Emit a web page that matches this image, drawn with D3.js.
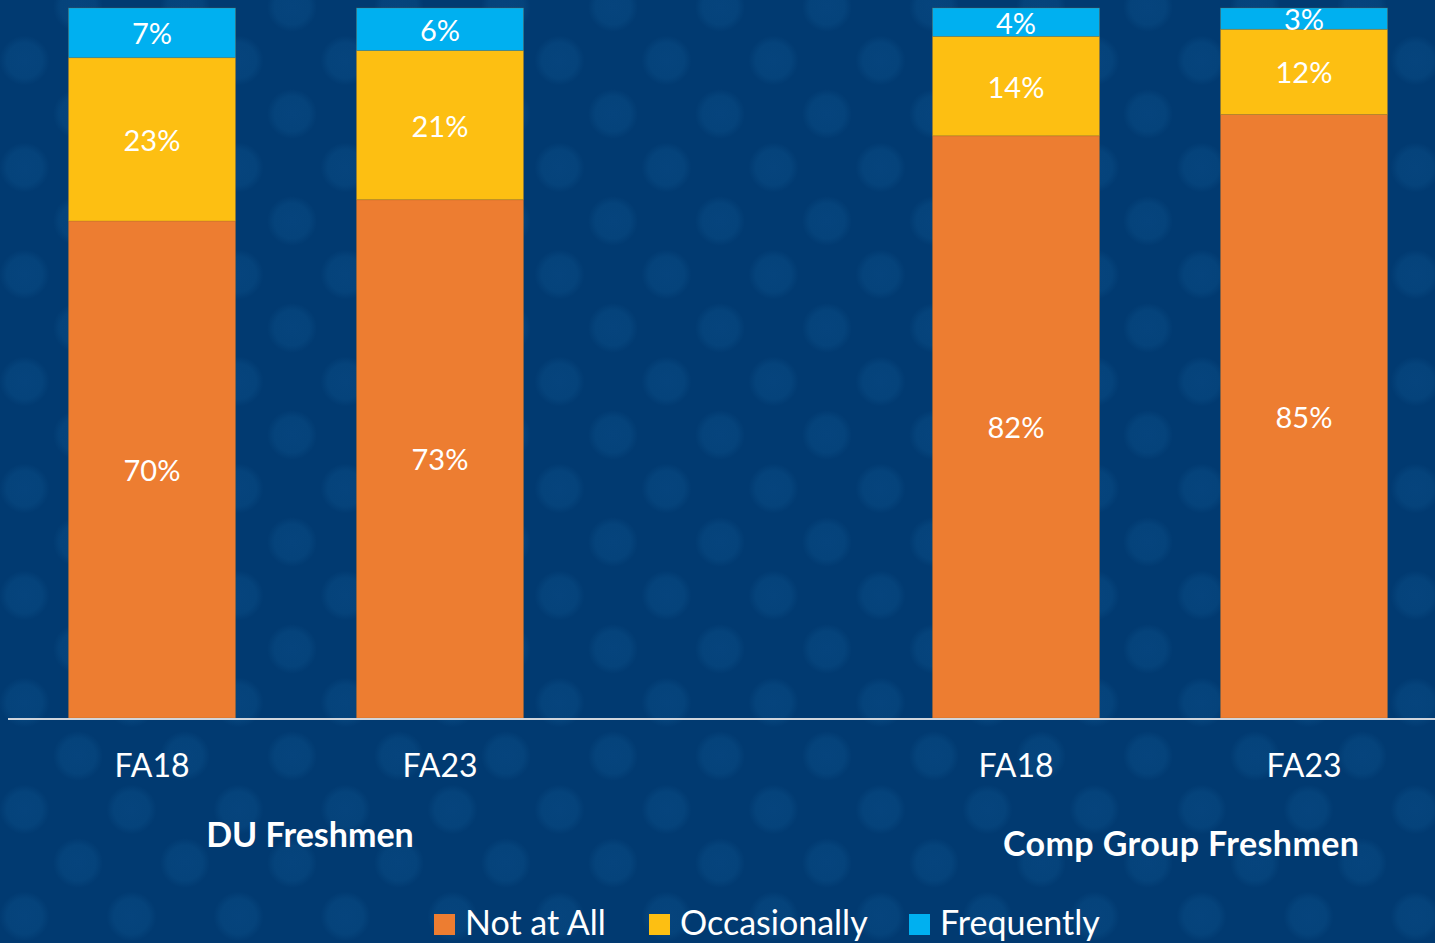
<!DOCTYPE html>
<html>
<head>
<meta charset="utf-8">
<script src="https://cdn.jsdelivr.net/npm/d3@7"></script>
<style>
  html, body { margin: 0; padding: 0; background: #013a71; overflow: hidden; }
  svg { display: block; font-family: Lato, "Open Sans", sans-serif; }
</style>
</head>
<body>
<div id="chart"></div>
<script>
// categories (an empty slot separates the two groups)
const slots = ["du-FA18", "du-FA23", "gap", "cg-FA18", "cg-FA23"];
const tickLabels = ["FA18", "FA23", "", "FA18", "FA23"];
const groups = ["DU Freshmen", "Comp Group Freshmen"];

// series values, percent
const series = ["Not at All", "Occasionally", "Frequently"];
const notAtAll     = [70, 73, null, 82, 85];
const occasionally = [23, 21, null, 14, 12];
const frequently   = [7, 6, null, 4, 3];

const colors = ["#ed7d31", "#fdbf12", "#00b0f0"];

// SVG DIMENSIONS
const width = 1435, height = 943;
const svg = d3.select("#chart").append("svg")
  .attr("width", width)
  .attr("height", height);

// background dots
const defs = svg.append("defs");
const grad = defs.append("radialGradient").attr("id", "dotGrad");
grad.append("stop").attr("offset", "0%").attr("stop-color", "#06447d");
grad.append("stop").attr("offset", "70%").attr("stop-color", "#05437b");
grad.append("stop").attr("offset", "100%").attr("stop-color", "#013a71");
const pat = defs.append("pattern")
  .attr("id", "dots")
  .attr("patternUnits", "userSpaceOnUse")
  .attr("x", 78).attr("y", 7)
  .attr("width", 107).attr("height", 107);
pat.append("rect").attr("width", 107).attr("height", 107).attr("fill", "#013a71");
[[0, 0], [107, 0], [0, 107], [107, 107], [53.5, 53.5]].forEach(([cx, cy]) => {
  pat.append("circle").attr("cx", cx).attr("cy", cy).attr("r", 25).attr("fill", "url(#dotGrad)");
});
svg.append("rect").attr("width", width).attr("height", height).attr("fill", "url(#dots)");

// SCALES
const x = d3.scaleBand()
  .domain(slots)
  .range([8, 1448])
  .paddingInner(0.42)
  .paddingOuter(0.21);
const y = d3.scaleLinear().domain([0, 100]).range([718, 8]);

// stacked data
const rows = slots.map((s, i) => ({
  slot: s,
  "Not at All": notAtAll[i],
  "Occasionally": occasionally[i],
  "Frequently": frequently[i]
})).filter(d => d["Not at All"] !== null);
const stacked = d3.stack().keys(series)(rows);

// DRAW bars
const layer = svg.append("g").selectAll("g")
  .data(stacked)
  .enter()
  .append("g")
    .attr("fill", (d, i) => colors[i]);
layer.selectAll("rect")
  .data(d => d)
  .enter()
  .append("rect")
    .attr("x", d => x(d.data.slot))
    .attr("width", x.bandwidth())
    .attr("y", d => y(d[1]))
    .attr("height", d => y(d[0]) - y(d[1]))
    .attr("stroke", "rgba(160,110,40,0.35)")
    .attr("stroke-width", 0.8);

// value labels
layer.selectAll("text")
  .data(d => d)
  .enter()
  .append("text")
    .attr("x", d => x(d.data.slot) + x.bandwidth() / 2)
    .attr("y", d => (y(d[0]) + y(d[1])) / 2)
    .attr("text-anchor", "middle")
    .attr("dominant-baseline", "central")
    .attr("fill", "white")
    .attr("font-size", 29)
    .text(d => Math.round(d[1] - d[0]) + "%");

// baseline
svg.append("line")
  .attr("x1", 8).attr("x2", width)
  .attr("y1", y(0) + 1).attr("y2", y(0) + 1)
  .attr("stroke", "#d0d5dc")
  .attr("stroke-width", 2);

// x axis labels
const xAxis = d3.axisBottom(x).tickSize(0).tickFormat((d, i) => tickLabels[i]);
const gx = svg.append("g")
  .attr("transform", `translate(0,${y(0)})`)
  .call(xAxis);
gx.select(".domain").remove();
gx.selectAll("text")
  .attr("dy", null)
  .attr("y", 59)
  .attr("fill", "white")
  .attr("font-size", 32)
  .attr("font-family", "Lato, sans-serif");

// group labels
svg.append("text")
  .attr("x", 310).attr("y", 847)
  .attr("text-anchor", "middle")
  .attr("fill", "white")
  .attr("font-weight", "bold")
  .attr("font-size", 34)
  .text(groups[0]);
svg.append("text")
  .attr("x", 1181).attr("y", 856)
  .attr("text-anchor", "middle")
  .attr("fill", "white")
  .attr("font-weight", "bold")
  .attr("font-size", 34)
  .attr("textLength", 356)
  .text(groups[1]);

// legend
const legendX = [434, 649, 909];
const legend = svg.append("g").selectAll("g")
  .data(series)
  .enter()
  .append("g")
    .attr("transform", (d, i) => `translate(${legendX[i]},914)`);
legend.append("rect")
  .attr("width", 21).attr("height", 21)
  .attr("fill", (d, i) => colors[i]);
legend.append("text")
  .attr("x", 31).attr("y", 21)
  .attr("fill", "white")
  .attr("font-size", 34)
  .text(d => d);
</script>
</body>
</html>
